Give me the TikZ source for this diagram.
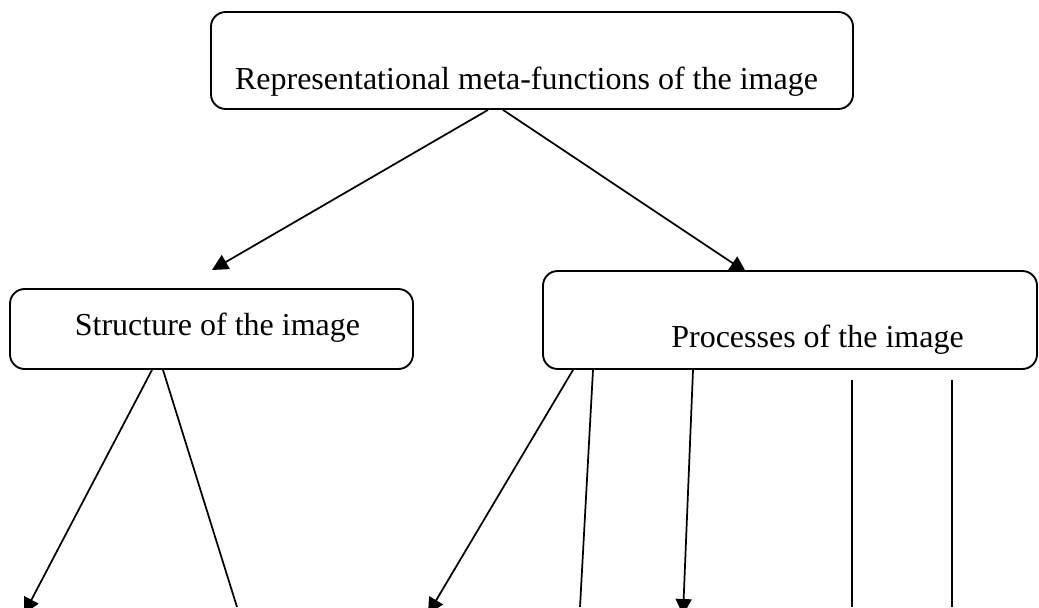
\documentclass[tikz,border=0pt]{standalone}
\usepackage{fontspec}
\setmainfont{Liberation Serif}
\usetikzlibrary{arrows.meta,calc}
\begin{document}
\begin{tikzpicture}[x=0.75pt,y=-0.75pt,
  box/.style={draw,line width=1.4pt,rounded corners=11pt,inner sep=0pt},
  lbl/.style={anchor=base,inner sep=0pt,font=\fontsize{24}{28}\selectfont},
  conn/.style={line width=1.3pt},
  arr/.style={conn,-{Triangle[length=12pt,width=12pt]}}]
\useasboundingbox (0,0) rectangle (1039,607);
\clip (0,0) rectangle (1039,607);
% boxes
\node[box,minimum width=481.5pt,minimum height=72.75pt] (top) at (532,60.5) {};
\node[box,minimum width=302.25pt,minimum height=60pt] (st) at (211.5,329) {};
\node[box,minimum width=370.5pt,minimum height=73.5pt] (pr) at (790,320) {};
% labels
\node[lbl] (toptxt) at (526.5,89) {Representational meta-functions of the image};
\node[lbl] (sttxt) at (217.5,335) {Structure of the image};
\node[lbl] (prtxt) at (817.5,347) {Processes of the image};
% free ends
\coordinate (a1) at (212,270);
\coordinate (a2) at (746,272);
\coordinate (s1) at (24,614);
\coordinate (s2) at (237,607);
\coordinate (p1) at (428,614);
\coordinate (p2) at (580,607);
\coordinate (p3) at (683,615);
\coordinate (q4a) at (852,380);
\coordinate (q4b) at (852,607);
\coordinate (q5a) at (952,380);
\coordinate (q5b) at (952,607);
% connectors
\draw[arr] ($(top.south)+(-44,0)$) -- (a1);
\draw[arr] ($(top.south)+(-29,0)$) -- (a2);
\draw[arr] ($(st.south)+(-59.5,0)$) -- (s1);
\draw[conn] ($(st.south)+(-48.5,0)$) -- (s2);
\draw[arr] ($(pr.south)+(-217,0)$) -- (p1);
\draw[conn] ($(pr.south)+(-197,0)$) -- (p2);
\draw[arr] ($(pr.south)+(-97,0)$) -- (p3);
\draw[conn] (q4a) -- (q4b);
\draw[conn] (q5a) -- (q5b);
\end{tikzpicture}
\end{document}
